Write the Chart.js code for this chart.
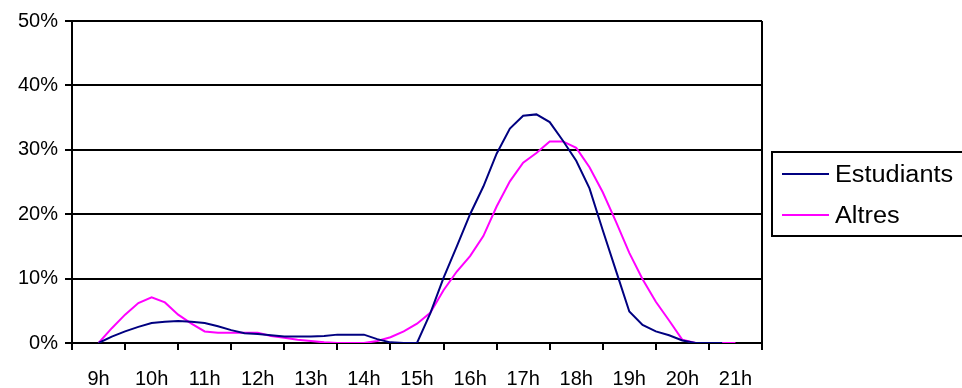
<!DOCTYPE html>
<html>
<head>
<meta charset="utf-8">
<script src="https://cdn.jsdelivr.net/npm/chart.js@4"></script>
<style>
  html, body { margin: 0; padding: 0; background: #fff; }
</style>
</head>
<body>
<canvas id="chart" width="962" height="388"></canvas>
<script>
// ─── dades: franja horària (cada quart d'hora) i percentatge per grup ───
const hourLabels = ['9h', '10h', '11h', '12h', '13h', '14h', '15h', '16h', '17h', '18h', '19h', '20h', '21h'];

const hours = [
  9, 9.25, 9.5, 9.75, 10, 10.25, 10.5, 10.75, 11, 11.25, 11.5, 11.75,
  12, 12.25, 12.5, 12.75, 13, 13.25, 13.5, 13.75, 14, 14.25, 14.5, 14.75,
  15, 15.25, 15.5, 15.75, 16, 16.25, 16.5, 16.75, 17, 17.25, 17.5, 17.75,
  18, 18.25, 18.5, 18.75, 19, 19.25, 19.5, 19.75, 20, 20.25, 20.5, 20.75, 21,
];

const estudiants = [
  0, 1.0, 1.8, 2.5, 3.1, 3.3, 3.4, 3.3, 3.1, 2.6, 2.0, 1.5,
  1.4, 1.2, 1.0, 1.0, 1.0, 1.1, 1.3, 1.3, 1.3, 0.6, 0.1, 0,
  0, 4.6, 10.1, 15.0, 20.0, 24.3, 29.4, 33.3, 35.3, 35.5, 34.3, 31.4,
  28.3, 24.0, 17.5, 11.2, 4.9, 2.8, 1.8, 1.2, 0.4, 0, 0, 0, null,
];

const altres = [
  0, 2.3, 4.4, 6.2, 7.1, 6.3, 4.4, 3.0, 1.8, 1.6, 1.6, 1.6,
  1.6, 1.1, 0.8, 0.5, 0.3, 0.1, 0, 0, 0, 0.3, 0.9, 1.8,
  3.0, 4.7, 8.2, 11.1, 13.5, 16.6, 21.2, 25.1, 28.0, 29.5, 31.3, 31.3,
  30.3, 27.3, 23.4, 18.8, 14.0, 9.9, 6.4, 3.5, 0.5, 0, 0, 0, 0,
];

const yTicks = [0, 10, 20, 30, 40, 50];

const FONT = 'Arial, "Liberation Sans", sans-serif';

function points(vals) {
  return hours.map((h, i) => ({ x: h, y: vals[i] }));
}

// marc dret de l'àrea del gràfic
const plotFrame = {
  id: 'plotFrame',
  afterDatasetsDraw(chart) {
    const { ctx, chartArea: a } = chart;
    ctx.save();
    ctx.strokeStyle = '#000';
    ctx.lineWidth = 2;
    ctx.beginPath();
    ctx.moveTo(a.right, a.top);
    ctx.lineTo(a.right, a.bottom);
    ctx.stroke();
    ctx.restore();
  },
};

// llegenda amb caixa, a la dreta (text una mica eixamplat)
const legendBox = {
  id: 'legendBox',
  afterDraw(chart) {
    const ctx = chart.ctx;
    ctx.save();
    ctx.fillStyle = '#fff';
    ctx.fillRect(772, 152, 200, 84);
    ctx.strokeStyle = '#000';
    ctx.lineWidth = 2;
    ctx.strokeRect(772, 152, 200, 84);
    ctx.font = '23px ' + FONT;
    ctx.textBaseline = 'alphabetic';
    const rows = [174, 215];
    chart.data.datasets.forEach((ds, i) => {
      const y = rows[i];
      ctx.strokeStyle = ds.borderColor;
      ctx.lineWidth = 2;
      ctx.beginPath();
      ctx.moveTo(782, y);
      ctx.lineTo(829, y);
      ctx.stroke();
      ctx.save();
      ctx.translate(835, y + 8);
      ctx.scale(1.1, 1);
      ctx.fillStyle = '#000';
      ctx.fillText(ds.label, 0, 0);
      ctx.restore();
    });
    ctx.restore();
  },
};

new Chart(document.getElementById('chart'), {
  type: 'line',
  data: {
    labels: hourLabels,
    datasets: [
      { label: 'Estudiants', data: points(estudiants), xAxisID: 'xh', borderColor: '#000080', borderWidth: 2, pointRadius: 0, tension: 0 },
      { label: 'Altres', data: points(altres), xAxisID: 'xh', borderColor: '#FF00FF', borderWidth: 2, pointRadius: 0, tension: 0 },
    ],
  },
  options: {
    responsive: false,
    animation: false,
    layout: { padding: { top: 21, right: 200, left: 0, bottom: 0 } },
    plugins: { legend: { display: false }, tooltip: { enabled: false } },
    scales: {
      x: {
        type: 'category',
        offset: true,
        grid: { offset: true, drawOnChartArea: false, color: '#000', lineWidth: 2, tickLength: 7 },
        border: { color: '#000', width: 2 },
        ticks: { color: '#000', font: { family: FONT, size: 20 }, padding: 17, maxRotation: 0, autoSkip: false },
        afterFit: s => { s.height = 45; },
      },
      xh: {
        type: 'linear',
        display: false,
        min: 8.5,
        max: 21.5,
      },
      y: {
        min: 0,
        max: 50,
        afterBuildTicks: s => { s.ticks = yTicks.map(v => ({ value: v })); },
        grid: { color: '#000', lineWidth: 2, tickLength: 7 },
        border: { color: '#000', width: 2 },
        ticks: { color: '#000', font: { family: FONT, size: 20 }, padding: 7, callback: v => v + '%' },
        afterFit: s => { s.width = 72; },
      },
    },
  },
  plugins: [plotFrame, legendBox],
});
</script>
</body>
</html>
